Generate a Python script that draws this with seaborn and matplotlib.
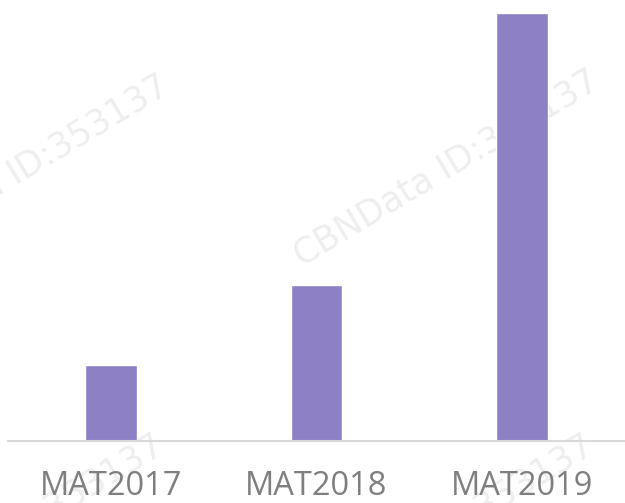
import matplotlib
matplotlib.use("Agg")
import matplotlib.pyplot as plt
import seaborn as sns
import pandas as pd

# values (relative bar heights)
periods = ["MAT2017", "MAT2018", "MAT2019"]
values = [76, 156, 428]

bar_color = "#8E80C4"
label_color = "#7F7F7F"

sns.set_theme(style="white")
plt.rcParams["font.family"] = ["Open Sans", "DejaVu Sans"]

df = pd.DataFrame({"period": periods, "value": values})

fig = plt.figure(figsize=(6.25, 5.03), dpi=100)
ax = fig.add_axes([8 / 625, 62 / 503, 617 / 625, 441 / 503])
ax.set_zorder(1)

# faint watermark tiles, drawn under the bars (clipped by the figure edge like the original)
for cx, cy in [(446, 168), (16, 173), (441, 533), (11, 533)]:
    fig.text(cx / 625, 1 - cy / 503, "CBNData ID:353137", rotation=31,
             ha="center", va="center", fontsize=25, color="#EEEEEE",
             family="DejaVu Sans", zorder=0)

sns.barplot(data=df, x="period", y="value", color=bar_color,
            saturation=1, width=0.25, ax=ax, zorder=2)
ax.patch.set_alpha(0)

ax.set_ylim(0, max(values) * 441 / 428)
ax.set_xlim(-0.5, 2.5)
ax.set_xlabel("")
ax.set_ylabel("")
ax.set_yticks([])
for side in ["top", "right", "left"]:
    ax.spines[side].set_visible(False)
ax.spines["bottom"].set_color("#D9D9D9")
ax.spines["bottom"].set_linewidth(1.5)
ax.tick_params(axis="x", length=0, pad=21, labelsize=23.5, labelcolor=label_color)

fig.savefig("out.png", dpi=100)
